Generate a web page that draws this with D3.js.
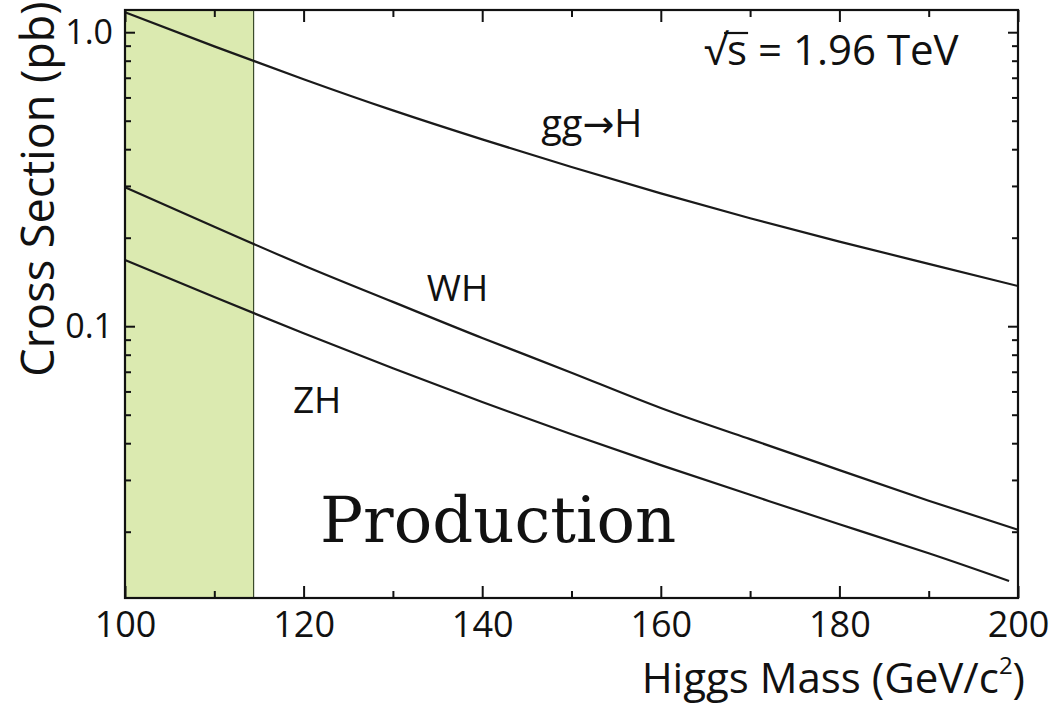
<!DOCTYPE html>
<html>
<head>
<meta charset="utf-8">
<script src="https://cdn.jsdelivr.net/npm/d3@7"></script>
<style>
  html, body { margin: 0; padding: 0; background: #fff; }
  svg { display: block; }
  .sans { font-family: "Open Sans", "DejaVu Sans", sans-serif; }
</style>
</head>
<body>
<svg id="chart" width="1054" height="706"></svg>
<script>
// Higgs boson production cross sections at the Tevatron (sqrt(s) = 1.96 TeV), in pb
const masses = [100, 110, 120, 130, 140, 150, 160, 170, 180, 190, 200];
const ggH = [1.170, 0.895, 0.692, 0.542, 0.432, 0.348, 0.283, 0.233, 0.194, 0.163, 0.137];
const WH  = [0.297, 0.218, 0.161, 0.121, 0.0912, 0.0695, 0.0527, 0.0413, 0.0324, 0.0255, 0.0203];
const zhMasses = [100, 110, 120, 130, 140, 150, 160, 170, 180, 190, 199];
const ZH  = [0.168, 0.1256, 0.0946, 0.0719, 0.0552, 0.0429, 0.0337, 0.0267, 0.0212, 0.0169, 0.0136];

// LEP exclusion region
const excluded = [100, 114.4];

const xMajorTicks = [100, 120, 140, 160, 180, 200];
const xMinorTicks = [110, 130, 150, 170, 190];
const yMajorTicks = [1.0, 0.1];
const yTickLabels = ["1.0", "0.1"];
const yMinorTicks = [0.9, 0.8, 0.7, 0.6, 0.5, 0.4, 0.3, 0.2,
                     0.09, 0.08, 0.07, 0.06, 0.05, 0.04, 0.03, 0.02];

const svg = d3.select("#chart");
const pLeft = 125, pRight = 1018, pTop = 10, pBottom = 598;

const x = d3.scaleLinear().domain([100, 200]).range([pLeft, pRight]);
const y = d3.scaleLog().domain([0.0119, 1.19]).range([pBottom, pTop]);

// excluded band
svg.append("rect")
  .attr("x", x(excluded[0])).attr("y", pTop)
  .attr("width", x(excluded[1]) - x(excluded[0])).attr("height", pBottom - pTop)
  .attr("fill", "#dbeab0").attr("stroke", "#3a4a2a").attr("stroke-width", 1.2);

// ticks on all four sides, pointing inward
function tickAxis(axis, tx, ty) {
  const g = svg.append("g").attr("transform", `translate(${tx},${ty})`).call(axis);
  g.select(".domain").remove();
  g.selectAll("line").attr("stroke", "#111").attr("stroke-width", 2);
  return g;
}
const xb = tickAxis(d3.axisBottom(x).tickValues(xMajorTicks).tickSize(-12).tickPadding(13).tickFormat(d3.format("d")), 0, pBottom);
xb.selectAll("text").attr("class", "sans").attr("font-size", 36).attr("fill", "#111");
tickAxis(d3.axisBottom(x).tickValues(xMinorTicks).tickSize(-7).tickFormat(""), 0, pBottom);
tickAxis(d3.axisTop(x).tickValues(xMajorTicks).tickSize(-12).tickFormat(""), 0, pTop);
tickAxis(d3.axisTop(x).tickValues(xMinorTicks).tickSize(-7).tickFormat(""), 0, pTop);

const yl = tickAxis(d3.axisLeft(y).tickValues(yMajorTicks).tickSize(-10).tickPadding(12)
  .tickFormat((d, i) => yTickLabels[i]), pLeft, 0);
yl.selectAll("text").attr("class", "sans").attr("font-size", 34).attr("fill", "#111");
tickAxis(d3.axisLeft(y).tickValues(yMinorTicks).tickSize(-6).tickFormat(""), pLeft, 0);
tickAxis(d3.axisRight(y).tickValues(yMajorTicks).tickSize(-10).tickFormat(""), pRight, 0);
tickAxis(d3.axisRight(y).tickValues(yMinorTicks).tickSize(-6).tickFormat(""), pRight, 0);

// curves
const line = d3.line().x(d => x(d[0])).y(d => y(d[1])).curve(d3.curveNatural);
const curves = [
  [masses, ggH],
  [masses, WH],
  [zhMasses, ZH]
];
curves.forEach(([m, v]) => {
  svg.append("path")
    .datum(m.map((d, i) => [d, v[i]]))
    .attr("d", line)
    .attr("fill", "none").attr("stroke", "#1a1a1a").attr("stroke-width", 2.2);
});

// frame
svg.append("rect")
  .attr("x", pLeft).attr("y", pTop).attr("width", pRight - pLeft).attr("height", pBottom - pTop)
  .attr("fill", "none").attr("stroke", "#111").attr("stroke-width", 2.2);

// curve labels
const labels = [
  { t: "gg\u2192H", m: 146.6, v: 0.44, s: 38 },
  { t: "WH", m: 133.8, v: 0.122, s: 37 },
  { t: "ZH", m: 118.8, v: 0.0505, s: 37 }
];
svg.selectAll("text.curve").data(labels).enter().append("text")
  .attr("class", "sans curve")
  .attr("x", d => x(d.m)).attr("y", d => y(d.v))
  .attr("font-size", d => d.s).attr("fill", "#111")
  .text(d => d.t);

// energy annotation: radical sign with a bar over the s
const annSize = 42;
const rad = svg.append("text").attr("class", "sans")
  .attr("x", 704).attr("y", 65).attr("font-size", annSize).attr("fill", "#111")
  .text("\u221A");
const radW = rad.node().getComputedTextLength();
const sTxt = svg.append("text").attr("class", "sans")
  .attr("x", 704 + radW).attr("y", 65).attr("font-size", annSize).attr("fill", "#111")
  .text("s");
const sW = sTxt.node().getComputedTextLength();
svg.append("line")
  .attr("x1", 704 + radW - 3).attr("x2", 704 + radW + sW + 1)
  .attr("y1", 33).attr("y2", 33)
  .attr("stroke", "#111").attr("stroke-width", 2.2);
svg.append("text").attr("class", "sans")
  .attr("x", 704 + radW + sW).attr("y", 65).attr("font-size", annSize).attr("fill", "#111")
  .attr("xml:space", "preserve")
  .text(" = 1.96 TeV");

// axis titles
svg.append("text").attr("class", "sans")
  .attr("transform", `translate(54,189) rotate(-90)`)
  .attr("text-anchor", "middle").attr("font-size", 45).attr("fill", "#111")
  .text("Cross Section (pb)");

const xt = svg.append("text").attr("class", "sans")
  .attr("x", 1025).attr("y", 693).attr("text-anchor", "end")
  .attr("font-size", 42).attr("fill", "#111");
xt.append("tspan").text("Higgs Mass (GeV/c");
xt.append("tspan").attr("font-size", 24).attr("dy", -19).text("2");
xt.append("tspan").attr("dy", 19).text(")");

svg.append("text")
  .attr("x", 320).attr("y", 542)
  .attr("font-family", "DejaVu Serif, serif").attr("font-size", 64).attr("fill", "#111")
  .text("Production");
</script>
</body>
</html>
